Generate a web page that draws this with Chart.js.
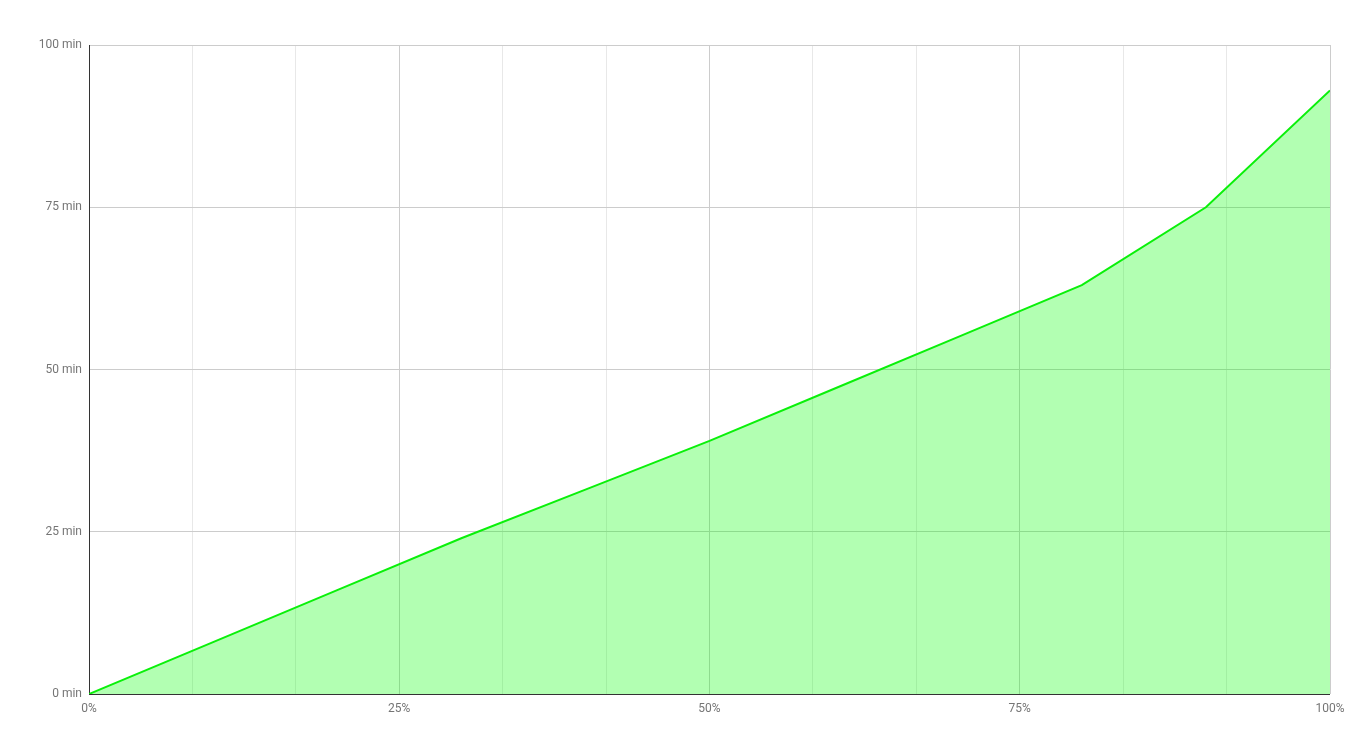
<!DOCTYPE html>
<html>
<head>
<meta charset="utf-8">
<script src="https://cdn.jsdelivr.net/npm/chart.js@4/dist/chart.umd.min.js"></script>
<style>
html,body{margin:0;padding:0;background:#fff;}
#wrap{width:1368px;height:753px;position:relative;}
</style>
</head>
<body>
<div id="wrap"><canvas id="c" width="1368" height="753"></canvas></div>
<script>
// Data
const progressPct = [0, 10, 20, 30, 40, 50, 60, 70, 80, 90, 100];
const minutes = [0, 8, 16, 24, 31.5, 39, 47, 55, 63, 75, 93];
const xGridValues = [0, 100/12, 200/12, 25, 400/12, 500/12, 50, 700/12, 800/12, 75, 1000/12, 1100/12, 100];
const xTickLabels = ['0%', '25%', '50%', '75%', '100%'];
const yTickValues = [0, 25, 50, 75, 100];
const yTickLabels = ['0 min', '25 min', '50 min', '75 min', '100 min'];

const isMajor = v => Math.abs(v / 25 - Math.round(v / 25)) < 1e-6;

new Chart(document.getElementById('c'), {
  type: 'line',
  data: {
    datasets: [{
      data: progressPct.map((x, i) => ({x: x, y: minutes[i]})),
      borderColor: '#0af00a',
      backgroundColor: 'rgba(0,255,0,0.3)',
      borderWidth: 2,
      fill: 'origin',
      pointRadius: 0,
      tension: 0
    }]
  },
  options: {
    responsive: false,
    animation: false,
    layout: {padding: {top: 45, right: 38, left: 0, bottom: 0}},
    plugins: {legend: {display: false}, tooltip: {enabled: false}},
    scales: {
      x: {
        type: 'linear',
        min: 0, max: 100,
        afterBuildTicks: s => { s.ticks = xGridValues.map(v => ({value: v})); },
        afterFit: s => { s.height = 59; },
        ticks: {
          autoSkip: false,
          maxRotation: 0,
          padding: 8,
          color: '#757575',
          font: {family: 'Roboto', size: 12},
          callback: v => isMajor(v) ? xTickLabels[Math.round(v / 25)] : ''
        },
        grid: {
          drawTicks: false,
          color: ctx => {
            const v = ctx.tick ? ctx.tick.value : 0;
            return isMajor(v) ? '#cccccc' : '#e8e8e8';
          },
          lineWidth: 1
        },
        border: {display: false}
      },
      y: {
        type: 'linear',
        min: 0, max: 100,
        afterBuildTicks: s => { s.ticks = yTickValues.map(v => ({value: v})); },
        afterFit: s => { s.width = 89; },
        ticks: {
          padding: 7,
          color: '#757575',
          font: {family: 'Roboto', size: 12},
          callback: v => yTickLabels[yTickValues.indexOf(v)]
        },
        grid: {
          drawTicks: false,
          color: ctx => (ctx.tick && ctx.tick.value === 0) ? '#333333' : '#cccccc',
          lineWidth: 1
        },
        border: {display: true, color: '#333333', width: 1}
      }
    }
  }
});
</script>
</body>
</html>
